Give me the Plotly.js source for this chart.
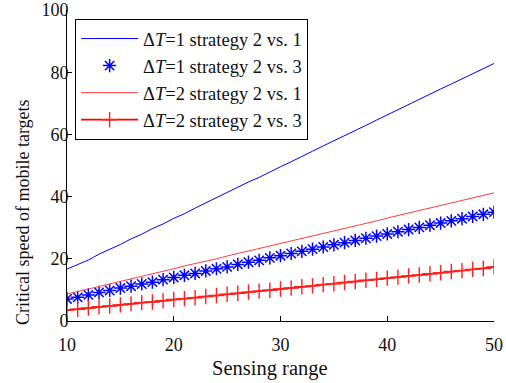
<!DOCTYPE html>
<html>
<head>
<meta charset="utf-8">
<script src="https://cdn.plot.ly/plotly-3.0.1.min.js"></script>
<style>html,body{margin:0;padding:0;background:#fff;}#chart{width:506px;height:383px;}</style>
</head>
<body>
<div id="chart"></div>
<script>
var sensingRange = [10,11,12,13,14,15,16,17,18,19,20,21,22,23,24,25,26,27,28,29,30,31,32,33,34,35,36,37,38,39,40,41,42,43,44,45,46,47,48,49,50];
var dt1_2vs1 = [16.7,18.2,19.6,21.5,23.0,24.6,26.4,27.9,29.7,31.2,33.0,34.5,36.3,38.0,39.6,41.4,42.9,44.7,46.2,48.0,49.6,51.2,53.0,54.6,56.3,57.9,59.6,61.3,62.9,64.6,66.3,67.9,69.6,71.2,72.9,74.6,76.2,77.9,79.5,81.1,82.8];
var dt1_2vs3 = [7.1,7.6,8.4,9.2,9.8,10.6,11.2,11.9,12.5,13.3,14.0,14.7,15.3,16.1,16.8,17.4,18.2,18.9,19.5,20.3,21.0,21.7,22.4,23.1,23.8,24.5,25.2,25.9,26.6,27.3,28.0,28.7,29.4,30.1,30.8,31.5,32.2,32.9,33.6,34.3,35.0];
var dt2_2vs1 = [8.7,9.4,10.3,11.1,11.9,12.7,13.6,14.3,15.0,16.0,16.8,17.7,18.4,19.2,20.0,20.9,21.7,22.4,23.3,24.1,24.9,25.8,26.5,27.4,28.1,29.0,29.8,30.6,31.4,32.2,33.1,33.9,34.7,35.5,36.3,37.1,37.9,38.7,39.5,40.3,41.2];
var dt2_2vs3 = [3.5,3.8,4.2,4.6,4.8,5.2,5.5,5.9,6.1,6.5,6.9,7.2,7.5,7.9,8.2,8.6,8.9,9.3,9.6,9.9,10.3,10.6,11.0,11.3,11.7,12.0,12.4,12.7,13.1,13.4,13.8,14.1,14.5,14.8,15.2,15.5,15.9,16.2,16.6,16.9,17.4];
var seriesNames = ['\u0394<i>T</i>=1 strategy 2 vs. 1','\u0394<i>T</i>=1 strategy 2 vs. 3','\u0394<i>T</i>=2 strategy 2 vs. 1','\u0394<i>T</i>=2 strategy 2 vs. 3'];
var xTicks = [10,20,30,40,50];
var yTicks = [0,20,40,60,80,100];
var xTitle = 'Sensing range';
var yTitle = 'Critical speed of mobile targets';

var font = 'Liberation Serif';
var traces = [
  {x: sensingRange, y: dt1_2vs1, name: seriesNames[0], mode: 'lines', line: {color: '#0000ff', width: 1}},
  {x: sensingRange, y: dt1_2vs3, name: seriesNames[1], mode: 'markers', marker: {symbol: 'asterisk-open', size: 11, color: '#0000ff', line: {color: '#0000ff', width: 1.5}}},
  {x: sensingRange, y: dt2_2vs1, name: seriesNames[2], mode: 'lines', line: {color: '#ff3c3c', width: 1}},
  {x: sensingRange, y: dt2_2vs3, name: seriesNames[3], mode: 'lines+markers', line: {color: '#ff0000', width: 1.8}, marker: {symbol: 'cross-thin-open', size: 11, color: '#ff2020', line: {color: '#ff2020', width: 1.4}}}
];
var layout = {
  width: 506, height: 383,
  margin: {l: 67, r: 12, t: 10, b: 62, autoexpand: false},
  paper_bgcolor: '#ffffff', plot_bgcolor: '#ffffff',
  font: {family: font, size: 18, color: '#111'},
  showlegend: true,
  legend: {x: 0.019, y: 0.971, xanchor: 'left', yanchor: 'top', bgcolor: '#ffffff', bordercolor: '#000', borderwidth: 1, font: {family: font, size: 18.5, color: '#111'}, itemwidth: 57, tracegroupgap: 0},
  xaxis: {range: [10, 50], tickvals: xTicks, ticktext: xTicks.map(String), ticks: 'inside', ticklen: 5, tickcolor: '#000', showline: true, linecolor: '#000', linewidth: 1, showgrid: false, zeroline: false, mirror: false,
    ticklabelstandoff: 7, tickfont: {family: font, size: 18}},
  yaxis: {range: [0, 100], tickvals: yTicks, ticktext: yTicks.map(String), ticks: 'inside', ticklen: 5, tickcolor: '#000', showline: true, linecolor: '#000', linewidth: 1, showgrid: false, zeroline: false, mirror: false,
    ticklabelstandoff: -6, tickfont: {family: font, size: 18}},
  annotations: [
    {text: xTitle, xref: 'paper', yref: 'paper', x: (270 - 67) / 427, y: (321 - 368) / 311, xanchor: 'center', yanchor: 'middle', showarrow: false, font: {family: font, size: 20.5, color: '#111'}},
    {text: yTitle, xref: 'paper', yref: 'paper', x: (23 - 67) / 427, y: (321 - 212) / 311, xanchor: 'center', yanchor: 'middle', textangle: -90, showarrow: false, font: {family: font, size: 18, color: '#111'}}
  ]
};
Plotly.newPlot('chart', traces, layout, {displayModeBar: false, staticPlot: true});
</script>
</body>
</html>
